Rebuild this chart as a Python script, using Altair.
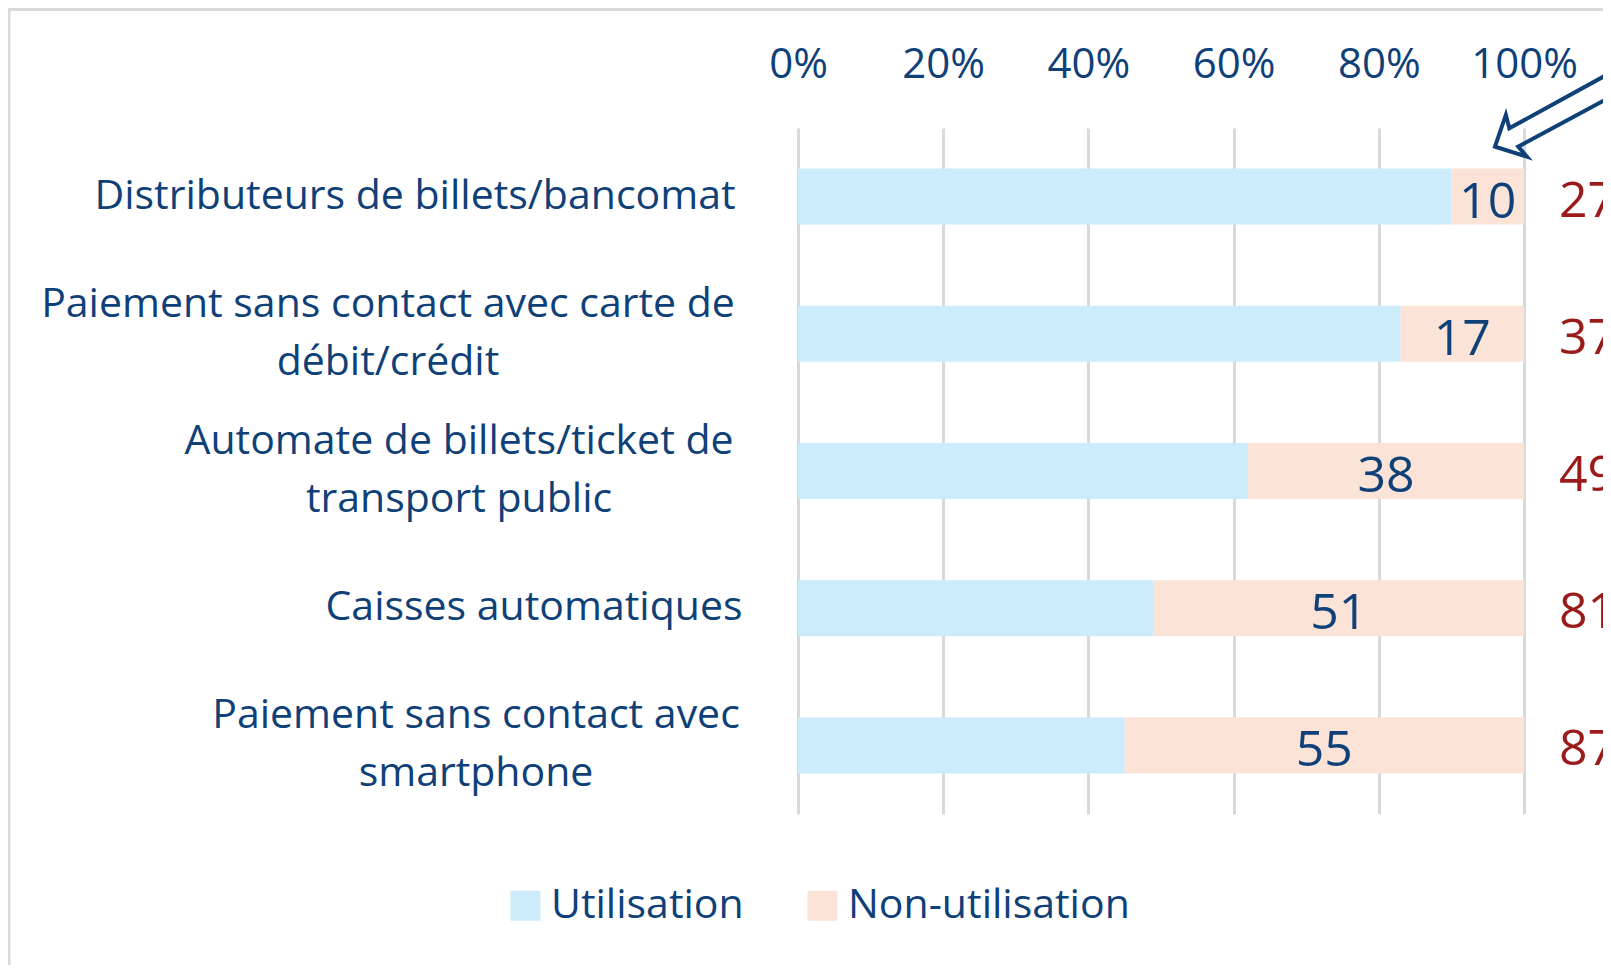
import altair as alt
import pandas as pd

# ---------------- data ----------------
categories = [
    "Distributeurs de billets/bancomat",
    "Paiement sans contact avec carte de\ndébit/crédit",
    "Automate de billets/ticket de\ntransport public",
    "Caisses automatiques",
    "Paiement sans contact avec\nsmartphone",
]
series = ["Utilisation", "Non-utilisation"]
utilisation = [90, 83, 62, 49, 45]
non_utilisation = [10, 17, 38, 51, 55]
side_values = [27, 37, 49, 81, 87]
tick_values = [0, 20, 40, 60, 80, 100]

# annotation arrow outline (x in %, y in row units from the top)
arrow_x = [117.4, 97.98, 97.5, 96.0, 100.4, 99.2, 117.4]
arrow_row = [-0.562, 0.002, -0.095, 0.136, 0.209, 0.136, -0.382]

# ---------------- layout / style ----------------
label_center_px = [-383, -410, -339, -264, -322]  # label centres, px from the 0% line
FONT = "Open Sans"
BLUE = "#0F4178"
RED = "#9B1B1B"
GRID = "#D9D9D9"
COLORS = ["#CCECFB", "#FBE3D7"]
LINE_H = 58

W, H = 805, 686
X_MAX = 110.88

rows = []
for i, c in enumerate(categories):
    rows.append({"cat": c, "series": series[0], "value": utilisation[i], "idx": 0})
    rows.append({"cat": c, "series": series[1], "value": non_utilisation[i], "idx": 1})
bars_df = pd.DataFrame(rows)

info_df = pd.DataFrame({
    "cat": categories,
    "use": utilisation,
    "non": non_utilisation,
    "side": side_values,
    "label_x": label_center_px,
    "nlines": [c.count("\n") + 1 for c in categories],
})
arrow_df = pd.DataFrame({"x": arrow_x, "row": arrow_row, "i": list(range(len(arrow_x)))})
frame_df = pd.DataFrame({"k": [0]})

x_scale = alt.Scale(domain=[0, X_MAX], nice=False, zero=True)
x_axis = alt.Axis(
    orient="top",
    values=tick_values,
    labelExpr="datum.value + '%'",
    labelFlush=False,
    grid=True,
    gridColor=GRID,
    gridWidth=3,
    domain=False,
    ticks=False,
    tickSize=0,
    labelPadding=51,
    labelBaseline="alphabetic",
    labelFont=FONT,
    labelFontSize=42,
    labelColor=BLUE,
    title=None,
)
y_enc = alt.Y(
    "cat:N",
    sort=categories,
    scale=alt.Scale(domain=categories, paddingInner=0.592, paddingOuter=0.296),
    axis=None,
)

bars = alt.Chart(bars_df).mark_bar().encode(
    x=alt.X("value:Q", stack="zero", scale=x_scale, axis=x_axis),
    y=y_enc,
    color=alt.Color(
        "series:N",
        scale=alt.Scale(domain=series, range=COLORS),
        legend=alt.Legend(
            orient="none",
            legendX=-293,
            legendY=757,
            direction="horizontal",
            title=None,
            symbolType="square",
            symbolSize=900,
            symbolStrokeWidth=0,
            labelFont=FONT,
            labelFontSize=41,
            labelColor=BLUE,
            labelOffset=5,
            labelLimit=0,
            columnPadding=58,
            padding=0,
        ),
    ),
    order=alt.Order("idx:Q"),
)

numbers = alt.Chart(info_df).transform_calculate(
    mid="datum.use + datum.non / 2"
).mark_text(
    font=FONT, fontSize=50, color=BLUE, align="center", baseline="middle", dy=6
).encode(
    x=alt.X("mid:Q", scale=x_scale, axis=x_axis),
    y=y_enc,
    text=alt.Text("non:Q"),
)

side = alt.Chart(info_df).mark_text(
    font=FONT, fontSize=50, color=RED, align="left", baseline="middle", dy=5
).encode(
    x=alt.value(761),
    y=y_enc,
    text=alt.Text("side:Q"),
)

cat_one = alt.Chart(info_df).transform_filter("datum.nlines == 1").mark_text(
    font=FONT, fontSize=41, color=BLUE, align="center", baseline="middle",
    lineBreak="\n", lineHeight=LINE_H
).encode(
    x=alt.X("label_x:Q", scale=None),
    y=y_enc,
    text="cat:N",
)
cat_two = alt.Chart(info_df).transform_filter("datum.nlines == 2").mark_text(
    font=FONT, fontSize=41, color=BLUE, align="center", baseline="middle",
    lineBreak="\n", lineHeight=LINE_H, dy=-LINE_H / 2
).encode(
    x=alt.X("label_x:Q", scale=None),
    y=y_enc,
    text="cat:N",
)

frame_top = alt.Chart(frame_df).mark_rule(color=GRID, strokeWidth=3).encode(
    x=alt.value(-789), x2=alt.value(W + 50), y=alt.value(-118.5)
)
frame_left = alt.Chart(frame_df).mark_rule(color=GRID, strokeWidth=3).encode(
    x=alt.value(-789), y=alt.value(-120), y2=alt.value(H + 200)
)

arrow = alt.Chart(arrow_df).mark_line(color=BLUE, strokeWidth=4, strokeJoin="miter").encode(
    x=alt.X("x:Q", scale=x_scale, axis=x_axis),
    y=alt.Y("row:Q", scale=alt.Scale(domain=[0, 5], reverse=True, nice=False, zero=False), axis=None),
    order=alt.Order("i:Q"),
)

chart = alt.layer(
    frame_top, frame_left, bars, numbers, side, cat_one, cat_two, arrow
).resolve_scale(y="independent").properties(
    width=W,
    height=H,
    padding={"left": 790, "top": 120, "right": 0, "bottom": 151},
    autosize=alt.AutoSizeParams(type="none"),
    background="white",
).configure_view(stroke=None)

chart.save("out.html", embed_options={"renderer": "svg", "actions": False})
